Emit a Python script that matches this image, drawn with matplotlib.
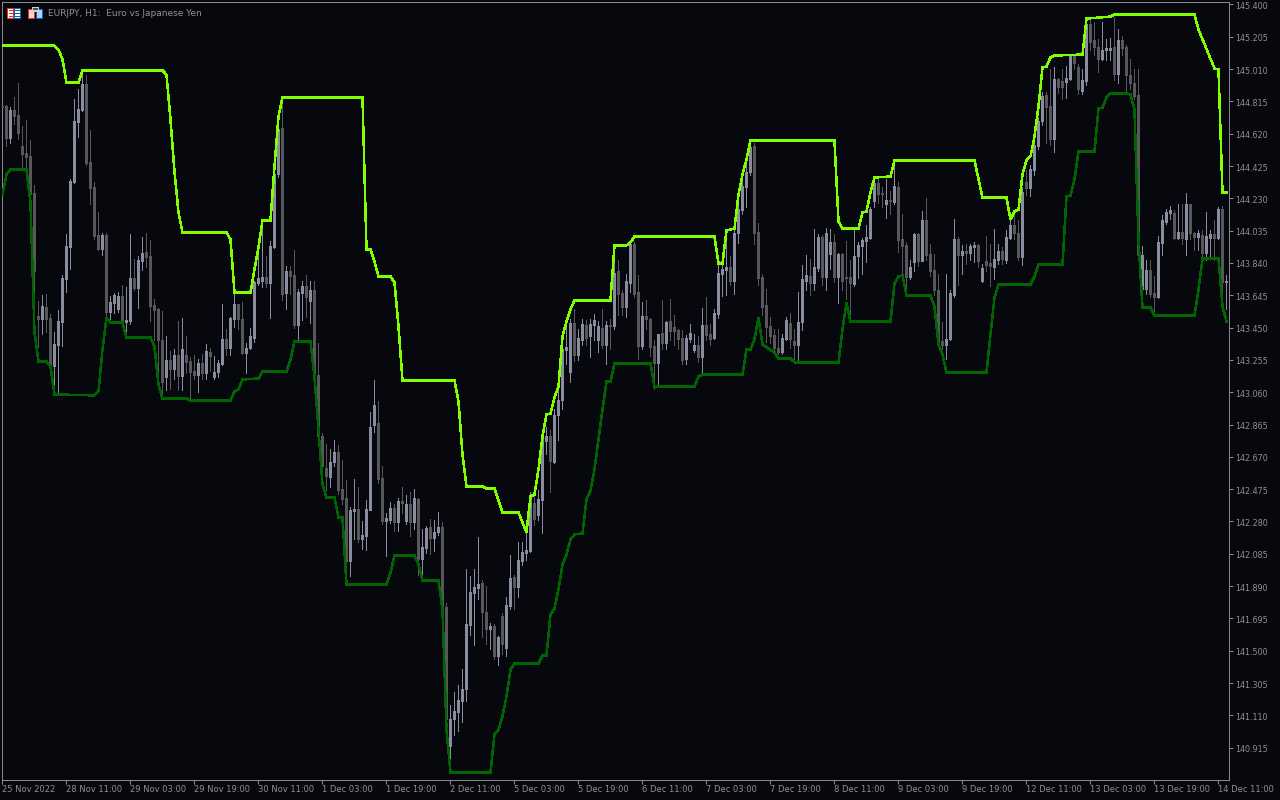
import matplotlib
matplotlib.use("Agg")
import matplotlib.pyplot as plt
from matplotlib.patches import Rectangle
from matplotlib.transforms import ScaledTranslation

# hourly candles, EURJPY, one entry per bar from 25 Nov 2022
opens = [
    144.790, 144.790, 144.597, 144.766, 144.736, 144.543, 144.501, 144.483, 144.265, 143.523,
    143.505, 143.572, 143.511, 143.216, 143.348, 143.481, 143.741, 143.934, 144.326, 144.688,
    144.766, 144.923, 144.452, 144.296, 144.006, 143.922, 144.006, 143.547, 143.596, 143.560,
    143.638, 143.481, 143.487, 143.747, 143.692, 143.855, 143.909, 143.885, 143.584, 143.560,
    143.378, 143.149, 143.252, 143.203, 143.282, 143.161, 143.282, 143.246, 143.191, 143.167,
    143.234, 143.179, 143.300, 143.149, 143.185, 143.228, 143.384, 143.330, 143.505, 143.590,
    143.505, 143.294, 143.324, 143.390, 143.722, 143.734, 143.753, 143.722, 143.934, 144.380,
    144.652, 143.656, 143.789, 143.765, 143.463, 143.656, 143.704, 143.608, 143.680, 143.167,
    142.793, 142.600, 142.546, 142.642, 142.697, 142.479, 142.419, 142.039, 142.341, 142.353,
    142.172, 142.190, 142.347, 142.860, 142.872, 142.540, 142.286, 142.292, 142.359, 142.274,
    142.401, 142.286, 142.383, 142.274, 142.413, 142.051, 142.123, 142.244, 142.178, 142.214,
    142.244, 141.767, 140.923, 141.086, 141.128, 141.194, 141.267, 141.653, 141.846, 141.876,
    141.906, 141.731, 141.629, 141.647, 141.466, 141.707, 141.514, 141.773, 141.948, 141.882,
    142.039, 142.087, 142.099, 142.389, 142.317, 142.407, 142.763, 142.793, 142.642, 142.920,
    143.016, 143.312, 143.185, 143.475, 143.282, 143.378, 143.463, 143.397, 143.463, 143.378,
    143.445, 143.348, 143.463, 143.457, 143.789, 143.656, 143.572, 143.722, 143.952, 143.662,
    143.342, 143.523, 143.505, 143.342, 143.234, 143.415, 143.360, 143.487, 143.451, 143.433,
    143.390, 143.258, 143.384, 143.312, 143.348, 143.270, 143.463, 143.409, 143.390, 143.535,
    143.771, 143.795, 143.813, 143.734, 144.024, 144.157, 144.296, 144.392, 144.543, 144.030,
    143.753, 143.584, 143.457, 143.403, 143.324, 143.300, 143.384, 143.475, 143.372, 143.348,
    143.481, 143.734, 143.759, 143.722, 143.807, 143.994, 143.753, 143.897, 143.964, 143.753,
    143.897, 143.753, 143.753, 143.716, 143.885, 143.940, 143.970, 143.988, 144.217, 144.320,
    144.265, 144.199, 144.223, 144.211, 144.296, 143.982, 143.946, 143.753, 143.843, 144.012,
    143.855, 144.097, 143.897, 143.795, 143.680, 143.372, 143.348, 143.384, 143.644, 143.982,
    143.891, 143.915, 143.903, 143.934, 143.946, 143.734, 143.855, 143.837, 143.813, 143.861,
    143.915, 143.861, 143.988, 144.072, 144.024, 143.879, 144.326, 144.290, 144.404, 144.549,
    144.694, 144.851, 144.790, 144.591, 144.953, 144.941, 144.935, 144.953, 145.092, 145.020,
    144.875, 144.941, 145.285, 145.183, 145.146, 145.074, 145.128, 145.128, 145.146, 144.983,
    145.183, 145.146, 144.977, 144.929, 144.851, 143.686, 143.686, 143.795, 143.656, 143.632,
    143.958, 144.090, 144.139, 144.139, 143.988, 144.030, 143.982, 144.193, 144.024, 143.994,
    144.006, 143.903, 143.988, 144.012, 143.988, 144.163, 143.728,
]
highs = [
    144.796, 144.796, 144.784, 144.839, 144.929, 144.664, 144.700, 144.585, 144.308, 143.608,
    143.644, 143.650, 143.535, 143.421, 143.554, 143.765, 144.012, 144.344, 144.827, 144.887,
    144.977, 144.977, 144.640, 144.326, 144.145, 144.024, 144.024, 143.638, 143.656, 143.662,
    143.710, 143.698, 144.012, 143.867, 143.885, 143.994, 144.024, 143.976, 143.620, 143.566,
    143.548, 143.397, 143.306, 143.318, 143.487, 143.511, 143.397, 143.270, 143.282, 143.258,
    143.288, 143.354, 143.324, 143.276, 143.252, 143.590, 143.439, 143.517, 143.656, 143.590,
    143.602, 143.360, 143.445, 143.734, 143.940, 144.072, 143.885, 143.970, 144.404, 144.718,
    144.827, 143.819, 143.819, 143.916, 143.686, 143.734, 143.765, 143.734, 143.734, 143.360,
    142.817, 142.745, 142.715, 142.769, 142.739, 142.654, 142.528, 142.365, 142.534, 142.491,
    142.280, 142.407, 142.938, 143.131, 143.010, 142.612, 142.329, 142.395, 142.383, 142.419,
    142.491, 142.437, 142.455, 142.479, 142.419, 142.232, 142.250, 142.298, 142.292, 142.335,
    142.274, 141.786, 141.170, 141.254, 141.291, 141.387, 141.991, 141.954, 141.991, 142.184,
    141.924, 141.888, 141.665, 141.659, 141.592, 141.725, 141.822, 142.075, 141.960, 142.154,
    142.154, 142.214, 142.455, 142.473, 142.473, 142.835, 142.853, 142.835, 142.956, 143.077,
    143.378, 143.469, 143.499, 143.560, 143.439, 143.499, 143.493, 143.499, 143.535, 143.487,
    143.560, 143.487, 143.499, 143.861, 143.861, 143.680, 143.771, 143.964, 143.964, 143.765,
    143.602, 143.614, 143.511, 143.378, 143.409, 143.614, 143.487, 143.620, 143.529, 143.439,
    143.433, 143.403, 143.469, 143.409, 143.397, 143.566, 143.632, 143.469, 143.560, 143.837,
    143.837, 143.982, 143.885, 144.042, 144.193, 144.404, 144.465, 144.561, 144.567, 144.084,
    143.771, 143.686, 143.517, 143.439, 143.439, 143.409, 143.517, 143.541, 143.439, 143.662,
    143.825, 143.891, 143.867, 144.048, 144.012, 144.006, 144.054, 144.048, 144.012, 143.903,
    143.903, 143.970, 143.861, 144.048, 143.964, 143.988, 144.072, 144.175, 144.344, 144.344,
    144.296, 144.344, 144.277, 144.440, 144.326, 144.133, 143.964, 143.861, 144.024, 144.024,
    144.151, 144.235, 143.952, 143.897, 143.771, 143.481, 143.771, 143.680, 144.103, 143.994,
    143.946, 143.952, 143.952, 143.964, 143.952, 143.831, 144.000, 143.952, 144.048, 143.952,
    143.934, 144.042, 144.103, 144.145, 144.097, 144.296, 144.404, 144.434, 144.585, 144.718,
    144.869, 144.869, 145.008, 145.020, 144.959, 145.008, 145.026, 145.098, 145.098, 145.038,
    145.008, 145.297, 145.309, 145.297, 145.189, 145.297, 145.189, 145.195, 145.327, 145.255,
    145.207, 145.158, 145.074, 145.008, 145.008, 143.940, 143.861, 143.861, 143.759, 144.000,
    144.127, 144.163, 144.181, 144.157, 144.193, 144.193, 144.265, 144.199, 144.030, 144.042,
    144.042, 144.145, 144.042, 144.097, 144.175, 144.181, 143.765,
]
lows = [
    144.766, 144.543, 144.567, 144.676, 144.591, 144.422, 144.416, 144.247, 143.511, 143.336,
    143.409, 143.421, 143.197, 143.077, 143.053, 143.342, 143.662, 143.801, 144.320, 144.603,
    144.760, 144.434, 144.199, 143.982, 143.916, 143.891, 143.499, 143.487, 143.541, 143.547,
    143.469, 143.403, 143.469, 143.680, 143.566, 143.795, 143.813, 143.487, 143.378, 143.137,
    143.047, 143.071, 143.077, 143.137, 143.071, 143.071, 143.179, 143.016, 143.137, 143.059,
    143.137, 143.137, 143.191, 143.137, 143.149, 143.222, 143.282, 143.282, 143.451, 143.439,
    143.288, 143.179, 143.318, 143.366, 143.710, 143.698, 143.698, 143.511, 143.928, 144.356,
    143.614, 143.560, 143.650, 143.445, 143.372, 143.493, 143.517, 143.475, 143.137, 142.775,
    142.534, 142.473, 142.491, 142.612, 142.443, 142.383, 141.997, 141.954, 142.172, 142.154,
    142.117, 142.105, 142.347, 142.823, 142.510, 142.262, 142.069, 142.268, 142.220, 142.220,
    142.329, 142.262, 142.190, 142.232, 141.960, 141.936, 142.087, 142.081, 142.099, 142.196,
    141.749, 141.074, 140.766, 140.989, 141.013, 141.067, 141.194, 141.598, 141.532, 141.810,
    141.580, 141.538, 141.508, 141.448, 141.417, 141.478, 141.466, 141.749, 141.749, 141.822,
    142.015, 142.045, 142.093, 142.256, 142.292, 142.208, 142.685, 142.461, 142.636, 142.769,
    142.956, 143.228, 143.119, 143.246, 143.252, 143.348, 143.348, 143.270, 143.378, 143.300,
    143.324, 143.228, 143.318, 143.439, 143.529, 143.529, 143.517, 143.662, 143.632, 143.258,
    143.318, 143.439, 143.276, 143.077, 143.089, 143.318, 143.318, 143.378, 143.348, 143.318,
    143.228, 143.228, 143.366, 143.300, 143.240, 143.167, 143.378, 143.348, 143.384, 143.511,
    143.638, 143.644, 143.710, 143.650, 143.958, 144.133, 144.175, 144.374, 143.952, 143.710,
    143.529, 143.366, 143.360, 143.306, 143.288, 143.288, 143.378, 143.324, 143.258, 143.246,
    143.433, 143.680, 143.644, 143.680, 143.789, 143.710, 143.680, 143.801, 143.728, 143.596,
    143.680, 143.620, 143.499, 143.704, 143.747, 143.771, 143.843, 143.982, 144.175, 144.205,
    144.175, 144.109, 144.133, 144.193, 143.909, 143.741, 143.680, 143.741, 143.789, 143.819,
    143.849, 143.861, 143.759, 143.644, 143.348, 143.318, 143.258, 143.378, 143.632, 143.710,
    143.771, 143.831, 143.861, 143.843, 143.813, 143.728, 143.789, 143.704, 143.741, 143.831,
    143.831, 143.837, 143.982, 143.982, 143.861, 143.825, 144.253, 144.247, 144.374, 144.525,
    144.670, 144.567, 144.555, 144.507, 144.863, 144.827, 144.833, 144.947, 145.008, 144.857,
    144.857, 144.917, 145.128, 145.098, 144.990, 145.062, 145.062, 145.062, 144.947, 144.929,
    145.098, 144.863, 144.887, 144.827, 143.861, 143.608, 143.650, 143.632, 143.529, 143.626,
    143.891, 144.078, 144.103, 143.982, 143.982, 143.952, 143.891, 143.982, 143.916, 143.916,
    143.873, 143.861, 143.867, 143.861, 143.982, 143.662, 143.560,
]
closes = [
    144.784, 144.597, 144.766, 144.730, 144.627, 144.495, 144.477, 144.259, 143.789, 143.505,
    143.578, 143.505, 143.228, 143.354, 143.487, 143.747, 143.940, 144.332, 144.694, 144.772,
    144.923, 144.446, 144.290, 144.000, 143.922, 144.006, 143.547, 143.602, 143.644, 143.638,
    143.487, 143.493, 143.747, 143.692, 143.861, 143.903, 143.879, 143.578, 143.554, 143.378,
    143.119, 143.252, 143.203, 143.282, 143.161, 143.318, 143.240, 143.185, 143.167, 143.234,
    143.179, 143.306, 143.276, 143.185, 143.234, 143.384, 143.330, 143.511, 143.590, 143.499,
    143.294, 143.330, 143.397, 143.728, 143.747, 143.753, 143.722, 143.940, 144.380, 144.646,
    143.650, 143.789, 143.759, 143.463, 143.662, 143.704, 143.632, 143.674, 143.167, 142.793,
    142.612, 142.552, 142.642, 142.697, 142.473, 142.413, 142.039, 142.347, 142.353, 142.172,
    142.196, 142.353, 142.853, 142.986, 142.534, 142.286, 142.304, 142.359, 142.274, 142.401,
    142.389, 142.383, 142.274, 142.419, 142.051, 142.129, 142.238, 142.178, 142.214, 142.244,
    141.767, 141.086, 141.086, 141.134, 141.200, 141.267, 141.659, 141.852, 141.882, 141.900,
    141.731, 141.629, 141.647, 141.466, 141.580, 141.538, 141.779, 141.942, 141.882, 142.045,
    142.093, 142.105, 142.431, 142.298, 142.413, 142.775, 142.793, 142.648, 142.920, 143.016,
    143.318, 143.336, 143.475, 143.282, 143.390, 143.469, 143.390, 143.469, 143.493, 143.457,
    143.348, 143.463, 143.457, 143.777, 143.650, 143.572, 143.734, 143.952, 143.650, 143.342,
    143.523, 143.499, 143.336, 143.234, 143.409, 143.360, 143.481, 143.427, 143.427, 143.384,
    143.252, 143.390, 143.415, 143.348, 143.270, 143.463, 143.403, 143.384, 143.541, 143.777,
    143.801, 143.813, 143.734, 144.024, 144.163, 144.302, 144.392, 144.537, 144.024, 143.747,
    143.572, 143.451, 143.397, 143.330, 143.300, 143.390, 143.493, 143.384, 143.348, 143.481,
    143.741, 143.765, 143.722, 143.813, 143.994, 143.753, 144.018, 143.964, 143.753, 143.897,
    143.734, 143.747, 143.722, 143.885, 143.946, 143.976, 143.994, 144.163, 144.320, 144.259,
    144.259, 144.223, 144.217, 144.302, 143.976, 143.940, 143.753, 143.813, 144.012, 143.849,
    144.097, 143.891, 143.789, 143.674, 143.360, 143.348, 143.384, 143.656, 143.982, 143.891,
    143.915, 143.903, 143.940, 143.946, 143.855, 143.807, 143.825, 143.819, 143.867, 143.915,
    143.867, 143.994, 144.072, 144.018, 143.879, 144.271, 144.290, 144.410, 144.555, 144.694,
    144.845, 144.784, 144.591, 144.953, 144.905, 144.905, 144.959, 145.092, 145.044, 144.887,
    144.947, 145.285, 145.171, 145.146, 145.074, 145.128, 145.140, 145.140, 144.983, 145.183,
    145.140, 144.977, 144.929, 144.845, 143.891, 143.891, 143.795, 143.650, 143.632, 143.964,
    144.097, 144.145, 144.157, 143.988, 144.030, 143.988, 144.193, 144.024, 143.994, 144.018,
    143.903, 144.000, 144.012, 143.988, 144.163, 143.728, 143.734,
]

# channel lines, read at the bars where they change
upper_bars = [
    0, 13, 14, 15, 16, 19, 20, 40, 41, 42, 43, 44, 45, 56, 57, 58, 62, 63, 64, 65,
    67, 68, 69, 70, 90, 91, 92, 93, 94, 97, 98, 99, 100, 113, 114, 115, 116, 120, 121, 123,
    125, 129, 131, 132, 133, 134, 135, 136, 137, 138, 139, 140, 141, 142, 143, 152, 153, 156, 157, 158,
    178, 179, 180, 181, 183, 184, 185, 186, 187, 208, 209, 210, 214, 215, 216, 217, 218, 222, 223, 243,
    245, 251, 252, 253, 254, 255, 256, 257, 258, 259, 260, 261, 262, 263, 270, 271, 277, 278, 298, 299,
    303, 304, 305, 306,
]
upper_prices = [
    145.152, 145.152, 145.128, 145.068, 144.929, 144.929, 145.002, 145.002, 144.977, 144.706,
    144.392, 144.145, 144.024, 144.024, 143.982, 143.662, 143.662, 143.801, 143.934, 144.097,
    144.097, 144.422, 144.724, 144.839, 144.839, 143.922, 143.922, 143.849, 143.759, 143.759,
    143.722, 143.457, 143.131, 143.131, 143.004, 142.685, 142.491, 142.491, 142.479, 142.479,
    142.335, 142.335, 142.214, 142.431, 142.443, 142.594, 142.793, 142.926, 142.932, 143.028,
    143.095, 143.397, 143.487, 143.560, 143.614, 143.614, 143.946, 143.946, 143.964, 144.000,
    144.000, 143.837, 143.837, 144.036, 144.048, 144.253, 144.374, 144.465, 144.579, 144.579,
    144.090, 144.048, 144.048, 144.145, 144.151, 144.265, 144.356, 144.362, 144.459, 144.459,
    144.235, 144.235, 144.103, 144.151, 144.163, 144.374, 144.459, 144.483, 144.603, 144.784,
    145.020, 145.026, 145.080, 145.092, 145.098, 145.315, 145.327, 145.339, 145.339, 145.249,
    145.014, 145.008, 144.265, 144.265,
]
lower_bars = [
    0, 1, 2, 6, 7, 8, 9, 11, 12, 13, 23, 24, 25, 26, 27, 30, 31, 37, 38, 39,
    40, 46, 47, 57, 58, 59, 60, 64, 65, 71, 72, 73, 77, 78, 79, 80, 81, 83, 84, 85,
    86, 96, 97, 98, 103, 104, 105, 109, 110, 111, 112, 122, 123, 124, 125, 126, 127, 128, 134, 135,
    136, 137, 138, 139, 140, 141, 142, 143, 145, 146, 147, 148, 149, 150, 151, 152, 153, 162, 163, 173,
    174, 175, 185, 186, 187, 188, 189, 190, 193, 194, 197, 198, 209, 210, 211, 212, 222, 223, 224, 225,
    226, 232, 233, 234, 235, 236, 246, 247, 248, 249, 257, 258, 259, 265, 266, 267, 268, 269, 273, 274,
    275, 276, 277, 281, 282, 283, 284, 285, 287, 288, 298, 299, 300, 304, 305, 306,
]
lower_prices = [
    144.253, 144.374, 144.404, 144.404, 144.205, 143.421, 143.246, 143.246, 143.216, 143.047,
    143.041, 143.065, 143.318, 143.511, 143.481, 143.481, 143.390, 143.390, 143.336, 143.107,
    143.022, 143.022, 143.010, 143.010, 143.065, 143.077, 143.137, 143.143, 143.185, 143.185,
    143.258, 143.366, 143.366, 143.155, 142.835, 142.504, 142.425, 142.425, 142.304, 142.304,
    141.900, 141.900, 141.972, 142.075, 142.075, 142.021, 141.924, 141.924, 141.749, 141.025,
    140.766, 140.766, 140.995, 141.025, 141.104, 141.224, 141.387, 141.423, 141.423, 141.472,
    141.472, 141.719, 141.755, 141.870, 142.021, 142.081, 142.172, 142.202, 142.208, 142.413,
    142.467, 142.594, 142.775, 142.956, 143.125, 143.125, 143.234, 143.234, 143.095, 143.095,
    143.155, 143.167, 143.167, 143.318, 143.318, 143.378, 143.511, 143.348, 143.300, 143.264,
    143.264, 143.240, 143.240, 143.439, 143.602, 143.487, 143.487, 143.716, 143.759, 143.765,
    143.644, 143.644, 143.578, 143.348, 143.288, 143.179, 143.179, 143.409, 143.632, 143.710,
    143.710, 143.759, 143.831, 143.831, 144.241, 144.247, 144.344, 144.513, 144.513, 144.772,
    144.778, 144.839, 144.863, 144.863, 144.857, 144.766, 143.982, 143.572, 143.572, 143.523,
    143.523, 143.680, 143.867, 143.867, 143.578, 143.487,
]

price_ticks = [
    145.400, 145.205, 145.010, 144.815, 144.620, 144.425, 144.230, 144.035, 143.840, 143.645,
    143.450, 143.255, 143.060, 142.865, 142.670, 142.475, 142.280, 142.085, 141.890, 141.695,
    141.500, 141.305, 141.110, 140.915,
]
time_labels = [
    "25 Nov 2022", "28 Nov 11:00", "29 Nov 03:00", "29 Nov 19:00", "30 Nov 11:00",
    "1 Dec 03:00", "1 Dec 19:00", "2 Dec 11:00", "5 Dec 03:00", "5 Dec 19:00",
    "6 Dec 11:00", "7 Dec 03:00", "7 Dec 19:00", "8 Dec 11:00", "9 Dec 03:00",
    "9 Dec 19:00", "12 Dec 11:00", "13 Dec 03:00", "13 Dec 19:00", "14 Dec 11:00",
]
BARS_PER_LABEL = 16

BG = "#07080d"
FRAME = "#8a8a90"
TEXT = "#8f8f94"
BULL = "#8c8ca0"
BEAR = "#58585c"
PX = 0.72  # one pixel in points at dpi 100

plt.rcParams["font.family"] = ["DejaVu Sans"]

fig = plt.figure(figsize=(12.8, 8), dpi=100, facecolor=BG)
ax = fig.add_axes([2.0 / 1280, 20.0 / 800, 1227 / 1280, 778 / 800], facecolor=BG)

bars = list(range(len(opens)))
colors = [BULL if c >= o else BEAR for o, c in zip(opens, closes)]

# candles
ax.vlines(bars, lows, highs, colors=colors, linewidth=PX, antialiased=False, zorder=2)
ax.vlines(bars, opens, closes, colors=colors, linewidth=3 * PX, antialiased=False, zorder=3)

# channel
ax.plot(lower_bars, lower_prices, color="#006400", linewidth=1.5 * PX, antialiased=False,
        solid_joinstyle="miter", zorder=4)
ax.plot(upper_bars, upper_prices, color="#7fff00", linewidth=1.5 * PX, antialiased=False,
        solid_joinstyle="miter", zorder=5)

ax.set_xlim(-0.12, 306.63)
ax.set_ylim(140.720, 145.415)

for side in ax.spines:
    ax.spines[side].set_color(FRAME)
    ax.spines[side].set_linewidth(PX)

ax.yaxis.tick_right()
ax.set_yticks(price_ticks)
ax.set_yticklabels([f"{p:.3f}" for p in price_ticks])
ax.set_xticks([i * BARS_PER_LABEL for i in range(len(time_labels))])
ax.set_xticklabels(time_labels, ha="left")
ax.tick_params(axis="both", colors=FRAME, labelcolor=TEXT, length=3, width=PX, pad=1.5)
ax.tick_params(axis="y", labelsize=5.8)
ax.tick_params(axis="x", labelsize=6.0, pad=0.8)

# price labels sit one pixel lower than matplotlib centres them
label_shift = ScaledTranslation(0, -1 / 100, fig.dpi_scale_trans)
for label in ax.get_yticklabels():
    label.set_transform(label.get_transform() + label_shift)

# toolbar icons and symbol caption, top left
icon_parts = [
    (7, 8, 7, 11, "#e03030"), (8, 9, 5, 9, "#ffffff"), (14, 8, 7, 11, "#1060b0"), (15, 9, 5, 9, "#ffffff"),
    (9, 10, 4, 1, "#e03030"), (9, 13, 4, 1, "#e03030"), (9, 16, 4, 1, "#e03030"),
    (15, 10, 5, 1, "#1060b0"), (15, 13, 5, 1, "#1060b0"), (15, 16, 5, 1, "#1060b0"),
    (28, 9, 7, 10, "#e03030"), (29, 10, 5, 8, "#ffd0d0"), (36, 9, 7, 10, "#1060b0"), (37, 10, 5, 8, "#a0d8ff"),
    (32, 7, 7, 5, "#d0d0d0"), (33, 8, 5, 2, "#505050"),
]
for left, top, w, h, col in icon_parts:
    fig.add_artist(Rectangle((left / 1280, 1 - (top + h) / 800), w / 1280, h / 800,
                             transform=fig.transFigure, facecolor=col, edgecolor="none"))

fig.text(48 / 1280, 1 - 14 / 800, "EURJPY, H1:  Euro vs Japanese Yen", color=TEXT,
         fontsize=6.5, va="center", ha="left")

fig.savefig("out.png", dpi=100, facecolor=BG)
